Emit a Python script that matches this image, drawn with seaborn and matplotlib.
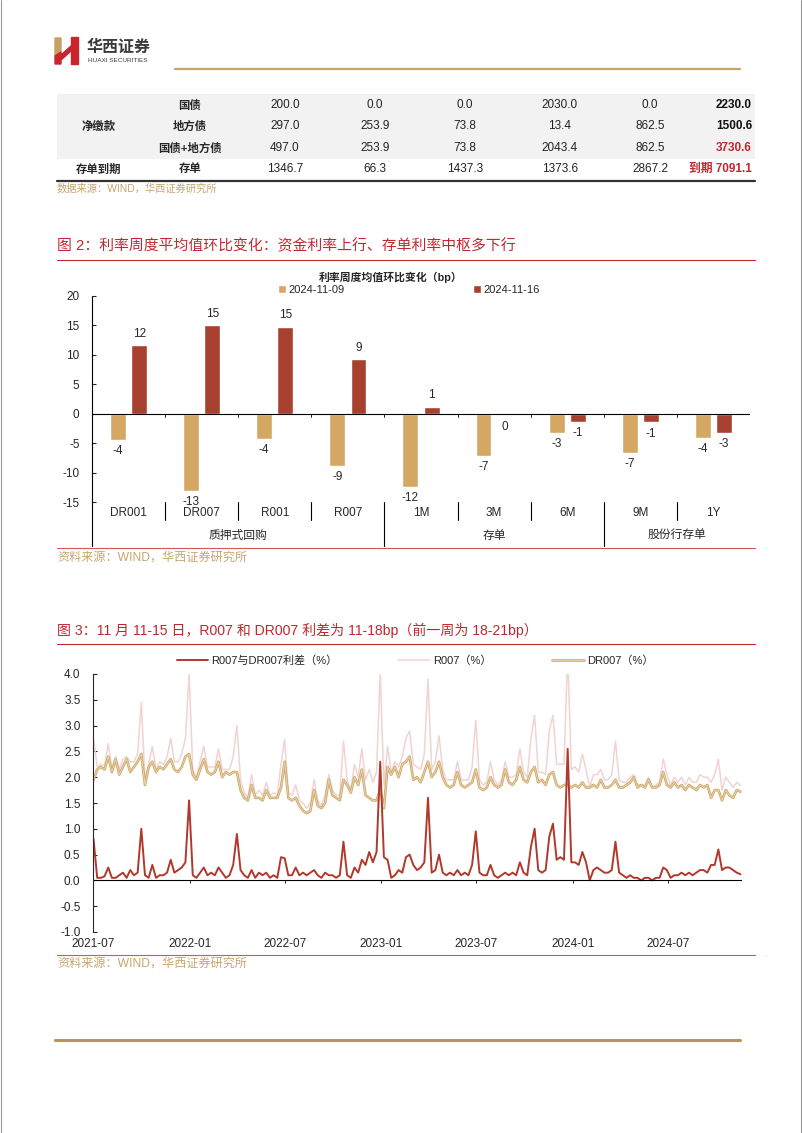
import numpy as np
import pandas as pd
import matplotlib.pyplot as plt
import matplotlib.dates as mdates
import matplotlib.patheffects as pe
import matplotlib.transforms as mtrans
from matplotlib.patches import Rectangle, Polygon
import seaborn as sns

sns.set_style("white")
plt.rcParams["font.family"] = ["Liberation Sans", "Noto Sans CJK SC"]
plt.rcParams["axes.unicode_minus"] = False

# --- 表格数据 ---
tbl_cols_x = [285, 375, 465, 560, 650]
gz = [200.0, 0.0, 0.0, 2030.0, 0.0]
dfz = [297.0, 253.9, 73.8, 13.4, 862.5]
gz_dfz = [497.0, 253.9, 73.8, 2043.4, 862.5]
cd = [1346.7, 66.3, 1437.3, 1373.6, 2867.2]
tbl_totals = ["2230.0", "1500.6", "3730.6", "到期 7091.1"]
tbl_rows = ["国债", "地方债", "国债+地方债", "存单"]

# --- 图2 数据 ---
categories = ["DR001", "DR007", "R001", "R007", "1M", "3M", "6M", "9M", "1Y"]
groups = [("质押式回购", 0, 3), ("存单", 4, 6), ("股份行存单", 7, 8)]
chg_1109 = [-4.4, -13.1, -4.3, -8.8, -12.4, -7.1, -3.3, -6.7, -4.1]
chg_1116 = [11.6, 15.0, 14.8, 9.3, 1.2, -0.3, -1.35, -1.45, -3.25]

# --- 图3 数据（周度读数）---
dates = pd.date_range("2021-07-02", periods=177, freq="7D")
dr007 = [
    1.95, 2.15, 2.2, 2.15, 2.4, 2.1, 2.35, 2.05, 2.2, 2.35, 2.1, 2.2, 2.3, 2.45, 1.85, 2.2, 2.3, 2.1, 2.2, 2.15,
    2.25, 2.35, 2.15, 2.1, 2.2, 2.4, 2.45,
    2.05, 1.95, 2.15, 2.35, 2.1, 2.05, 2.1, 2.3, 2.0, 2.1, 2.05, 2.1, 2.1, 1.75, 1.6, 1.55, 1.85, 1.6, 1.6, 1.55,
    1.75, 1.6, 1.6, 1.6, 1.8, 2.3,
    1.6, 1.55, 1.6, 1.45, 1.35, 1.3, 1.35, 1.75, 1.45, 1.4, 1.5, 1.95, 1.65, 1.6, 1.55, 1.95, 1.85, 1.7, 2.0, 1.85,
    2.15, 1.65, 1.6, 1.55, 1.55, 1.75,
    1.4, 2.2, 2.05, 2.2, 2.0, 2.25, 2.3, 2.4, 1.95, 2.0, 1.9, 2.1, 2.3, 2.0, 2.1, 2.3, 2.0, 1.85, 1.8, 1.85, 2.1,
    1.85, 1.8, 1.85, 1.9, 2.15, 1.8, 1.75, 1.8, 2.0, 1.85, 1.8, 1.85, 2.15, 1.9, 1.85, 1.95, 2.2,
    1.95, 1.9, 2.1, 2.2, 1.9, 1.95, 1.85, 2.05, 2.1, 1.85, 1.8, 1.85, 1.85, 1.8, 1.85, 1.8, 1.9, 1.8, 1.8, 1.85,
    1.8, 1.95, 1.8, 1.8, 1.85, 1.95, 1.8, 1.8, 1.85, 1.9, 2.0, 1.8, 1.85, 1.8, 1.95, 1.8, 1.8, 1.85, 2.1, 1.85,
    1.8, 1.9, 1.8, 1.85, 1.75, 1.85, 1.8, 1.75, 1.85, 1.8, 1.85, 1.6, 1.75, 1.75, 1.55, 1.75, 1.65, 1.6, 1.75, 1.72,
]
spread = [
    0.8, 0.05, 0.05, 0.08, 0.25, 0.05, 0.05, 0.1, 0.15, 0.05, 0.2, 0.1, 0.15, 1.0, 0.1, 0.05, 0.3, 0.05, 0.1, 0.1,
    0.15, 0.4, 0.15, 0.2, 0.25, 0.35, 1.55,
    0.1, 0.05, 0.15, 0.25, 0.1, 0.15, 0.1, 0.25, 0.15, 0.05, 0.1, 0.3, 0.9, 0.2, 0.1, 0.05, 0.2, 0.05, 0.15, 0.1,
    0.15, 0.05, 0.1, 0.05, 0.45, 0.43,
    0.1, 0.1, 0.25, 0.1, 0.15, 0.1, 0.15, 0.2, 0.1, 0.05, 0.15, 0.1, 0.1, 0.05, 0.1, 0.75, 0.1, 0.05, 0.25, 0.15,
    0.4, 0.3, 0.55, 0.35, 0.55, 2.3,
    0.45, 0.4, 0.05, 0.1, 0.2, 0.15, 0.45, 0.5, 0.3, 0.2, 0.25, 0.35, 1.6, 0.15, 0.2, 0.5, 0.15, 0.1, 0.15, 0.1,
    0.2, 0.1, 0.15, 0.1, 0.3, 0.95, 0.15, 0.1, 0.1, 0.3, 0.1, 0.05, 0.1, 0.15, 0.1, 0.15, 0.1, 0.35,
    0.15, 0.1, 0.65, 1.0, 0.2, 0.15, 0.2, 0.85, 1.1, 0.4, 0.45, 0.4, 2.55, 0.35, 0.35, 0.3, 0.55, 0.35, 0.0, 0.2,
    0.25, 0.2, 0.15, 0.15, 0.2, 0.75, 0.15, 0.1, 0.05, 0.1, 0.05, 0.05, 0.0, 0.05, 0.05, 0.0, 0.05, 0.05, 0.25, 0.2,
    0.05, 0.1, 0.1, 0.15, 0.1, 0.15, 0.1, 0.15, 0.2, 0.2, 0.15, 0.3, 0.3, 0.6, 0.2, 0.25, 0.25, 0.2, 0.15, 0.12,
]
x_tick_dates = ["2021-07-01", "2022-01-01", "2022-07-01", "2023-01-01", "2023-07-01", "2024-01-01", "2024-07-01"]

RED_T = "#C0282F"
GOLD_TXT = "#C8A66E"
BAR_GOLD = "#D4A862"
BAR_RED = "#A8402F"

W, H = 802, 1133
fig = plt.figure(figsize=(W / 100, H / 100), dpi=100)


def box(x0, y0, x1, y1):
    return [x0 / W, 1 - y1 / H, (x1 - x0) / W, (y1 - y0) / H]


# 整页画布（像素坐标）
ov = fig.add_axes([0, 0, 1, 1])
ov.set_xlim(0, W)
ov.set_ylim(H, 0)
ov.axis("off")

ov.plot([0.5, 0.5], [0, H], color="#9a9a9a", lw=0.8)
ov.plot([W - 1.5, W - 1.5], [0, H], color="#9a9a9a", lw=0.8)

# logo
ov.add_patch(Polygon([(55, 38), (61, 38), (61, 52), (55, 56)], closed=True, color="#C8A064"))
ov.add_patch(Polygon([(55, 56), (61, 52), (61, 64), (55, 64)], closed=True, color="#C9252C"))
ov.add_patch(Polygon([(71, 37), (78, 37), (78, 64), (71, 64)], closed=True, color="#C9252C"))
ov.add_patch(Polygon([(61, 55), (71, 46), (71, 51), (61, 60)], closed=True, color="#C9252C"))
ov.text(87, 47, "华西证券", fontsize=11.5, fontweight="bold", color="#3a3a3a", va="center",
        family=["Noto Sans CJK SC"])
ov.text(88, 60, "HUAXI SECURITIES", fontsize=4.6, color="#3a3a3a", va="center")
ov.plot([175, 740], [69, 69], color="#C9A26B", lw=1.6)

# 表格
ov.add_patch(Rectangle((57, 94), 698, 65, color="#F2F2F2", lw=0))
row_y = [105, 126, 148, 169]
ov.text(99, 126, "净缴款", ha="center", va="center", fontsize=8.2, fontweight="bold")
ov.text(99, 169, "存单到期", ha="center", va="center", fontsize=8.2, fontweight="bold")
for y, name, vals, tot in zip(row_y, tbl_rows, [gz, dfz, gz_dfz, cd], tbl_totals):
    ov.text(190, y, name, ha="center", va="center", fontsize=8.2, fontweight="bold")
    for x, v in zip(tbl_cols_x, vals):
        ov.text(x, y, f"{v:.1f}", ha="center", va="center", fontsize=8.5, color="#222222")
    col = RED_T if tot in ("3730.6", "到期 7091.1") else "#111111"
    ov.text(752, y, tot, ha="right", va="center", fontsize=8.5, fontweight="bold", color=col)
ov.plot([57, 755], [181, 181], color="#333333", lw=1.6)
ov.text(57, 189, "数据来源：WIND，华西证券研究所", fontsize=7.4, color=GOLD_TXT, va="center")

# 图2 标题
ov.text(57, 246, "图 2：利率周度平均值环比变化：资金利率上行、存单利率中枢多下行", fontsize=10.7,
        color=RED_T, va="center")
ov.plot([57, 755], [260, 260], color=RED_T, lw=0.8)
ov.text(391, 277, "利率周度均值环比变化（bp）", fontsize=7.8, fontweight="bold", ha="center", va="center")

bars = pd.DataFrame({
    "品种": categories * 2,
    "日期": ["2024-11-09"] * len(categories) + ["2024-11-16"] * len(categories),
    "bp": chg_1109 + chg_1116,
})
axb = fig.add_axes(box(92, 296, 750, 502))
sns.barplot(data=bars, x="品种", y="bp", hue="日期", order=categories,
            palette=[BAR_GOLD, BAR_RED], saturation=1, width=0.58, gap=0.25,
            errorbar=None, ax=axb)
for cont, vals in zip(axb.containers, [chg_1109, chg_1116]):
    for bar, v in zip(cont, vals):
        xc = bar.get_x() + bar.get_width() / 2
        lab = str(round(v))
        if v >= 0:
            axb.text(xc, v + 0.9, lab, ha="center", va="bottom", fontsize=8.5)
        else:
            axb.text(xc, v - 0.9, lab, ha="center", va="top", fontsize=8.5)

axb.set_xlim(-0.5, 8.5)
axb.set_ylim(-15, 20)
axb.set_yticks(range(-15, 21, 5))
axb.set_xticks([])
axb.set_xlabel("")
axb.set_ylabel("")
for s in axb.spines.values():
    s.set_visible(False)
axb.tick_params(axis="y", direction="in", length=3, labelsize=8.5, pad=9, left=True)
axb.axhline(0, color="black", lw=0.8)
axb.plot([0, 0], [1, -0.2136], transform=axb.transAxes, color="black", lw=0.8, clip_on=False)
bl = mtrans.blended_transform_factory(axb.transData, axb.transAxes)
for b in np.arange(0.5, 8.5, 1.0):
    low = -0.2136 if b in (3.5, 6.5) else -0.087
    axb.plot([b, b], [0, low], transform=bl, color="black", lw=0.8, clip_on=False)
    axb.plot([b, b], [0, -0.5], color="black", lw=0.6)
for i, c in enumerate(categories):
    axb.text(i, -0.053, c, transform=bl, ha="center", va="center", fontsize=8.5)
for name, a, b in groups:
    axb.text((a + b) / 2, -0.165, name, transform=bl, ha="center", va="center", fontsize=8.5)
h, l = axb.get_legend_handles_labels()
axb.legend(h, l, ncol=2, loc="center", bbox_to_anchor=(409 / W, 1 - 290 / H),
           bbox_transform=fig.transFigure, frameon=False, fontsize=8,
           handlelength=0.7, handleheight=0.7, handletextpad=0.3, columnspacing=11.5)

ov.plot([57, 755], [548, 548], color="#D05A5A", lw=0.8)
ov.text(57, 558, "资料来源：WIND，华西证券研究所", fontsize=8.7, color=GOLD_TXT, va="center")

# 图3
ov.text(57, 630, "图 3：11 月 11-15 日，R007 和 DR007 利差为 11-18bp（前一周为 18-21bp）", fontsize=10.1,
        color=RED_T, va="center")
ov.plot([57, 755], [644, 644], color=RED_T, lw=0.8)

rates = pd.DataFrame({"date": dates, "DR007": dr007, "利差": spread})
rates["R007"] = rates["DR007"] + rates["利差"]

axl = fig.add_axes(box(93, 674, 742, 932))
sns.lineplot(data=rates, x="date", y="R007", ax=axl, color="#F2D3D3", lw=1.1, label="R007（%）")
sns.lineplot(data=rates, x="date", y="DR007", ax=axl, color="#E8D3A8", lw=0.7, label="DR007（%）")
axl.lines[-1].set_path_effects([pe.Stroke(linewidth=1.9, foreground="#CDA86A"), pe.Normal()])
sns.lineplot(data=rates, x="date", y="利差", ax=axl, color="#B0392C", lw=1.4, label="R007与DR007利差（%）")

axl.set_ylim(-1, 4)
axl.set_xlim(pd.Timestamp("2021-07-01"), pd.Timestamp("2024-11-18"))
axl.set_yticks(np.arange(-1, 4.01, 0.5))
axl.yaxis.set_major_formatter(plt.FormatStrFormatter("%.1f"))
xt = pd.to_datetime(x_tick_dates)
axl.set_xticks(xt)
axl.xaxis.set_major_formatter(mdates.DateFormatter("%Y-%m"))
axl.set_xlabel("")
axl.set_ylabel("")
for s in ["top", "right", "bottom"]:
    axl.spines[s].set_visible(False)
axl.spines["left"].set_linewidth(0.8)
axl.tick_params(axis="y", direction="in", length=3, labelsize=8.5, pad=9, left=True)
axl.tick_params(axis="x", length=0, labelsize=8.5, pad=4)
axl.axhline(0, color="black", lw=0.8)
axl.vlines(xt, -0.06, 0, color="black", lw=0.6)

h, l = axl.get_legend_handles_labels()
order = [2, 0, 1]
axl.legend([h[i] for i in order], [l[i] for i in order], ncol=3, loc="center",
           bbox_to_anchor=(415 / W, 1 - 661 / H), bbox_transform=fig.transFigure,
           frameon=False, fontsize=8, handlelength=2.8, handletextpad=0.3, columnspacing=5.5)

ov.plot([57, 755], [955, 955], color="#D05A5A", lw=0.8)
ov.text(57, 964, "资料来源：WIND，华西证券研究所", fontsize=8.7, color=GOLD_TXT, va="center")

ov.plot([55, 740], [1040, 1040], color="#B8935A", lw=2.2)

fig.savefig("out.png", dpi=100)
